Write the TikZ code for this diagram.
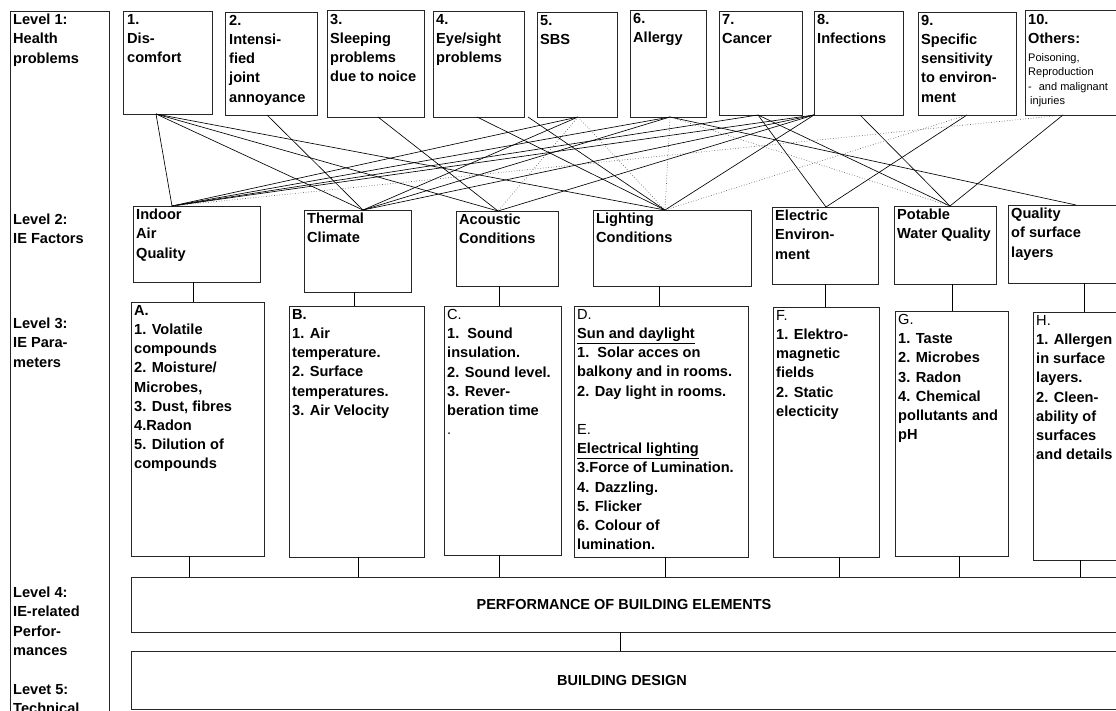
\documentclass[tikz,border=0pt]{standalone}
\usepackage{fontspec}
\setmainfont{Liberation Sans}
\usetikzlibrary{fit,calc}
\begin{document}
\begin{tikzpicture}[x=1pt,y=-1pt,
  box/.style={draw=black!85, line width=0.9pt, inner sep=0pt, outer sep=0pt, fit={#1}},
  t/.style={anchor=north west, inner sep=0pt, align=left, font=\fontsize{14.6}{19.2}\selectfont\bfseries, execute at begin node=\strut},
  tsmall/.style={anchor=north west, inner sep=0pt, align=left, font=\fontsize{11}{14.6}\selectfont, execute at begin node=\strut},
  big/.style={inner sep=0pt, font=\fontsize{14.5}{19.2}\selectfont\bfseries},
  c/.style={draw=black, line width=0.65pt},
  cd/.style={draw=black!65, line width=0.65pt, dotted}]
\useasboundingbox (0,0) rectangle (1116,710);
\fill[white] (0,0) rectangle (1116,710);

% left column
\node[box={(10,11)(109,740)}] (lev) {};
\node[t] (l1t) at (13,14) {Level 1:\\Health\\problems};
\node[t] (l2t) at (13,214) {Level 2:\\IE Factors};
\node[t] (l3t) at (13,318) {Level 3:\\IE Para-\\meters};
\node[t] (l4t) at (13,587) {Level 4:\\IE-related\\Perfor-\\mances};
\node[t] (l5t) at (13,684) {Levet 5:\\Technical};

% level 1 boxes
\node[box={(123,11)(212,114)}] (b1) {};
\node[box={(225,12)(317,115)}] (b2) {};
\node[box={(327,10)(424,117)}] (b3) {};
\node[box={(433,11)(524,117)}] (b4) {};
\node[box={(537,12)(617,117)}] (b5) {};
\node[box={(630,10)(706,117)}] (b6) {};
\node[box={(719,11)(802,115)}] (b7) {};
\node[box={(814,11)(903,115)}] (b8) {};
\node[box={(918,12)(1016,115)}] (b9) {};
\node[box={(1025,10)(1140,115)}] (b10) {};

\node[t] (b1t) at ([shift={(4,3)}]b1.north west) {1.\\Dis-\\comfort};
\node[t] (b2t) at ([shift={(4,3)}]b2.north west) {2.\\Intensi-\\fied\\joint\\annoyance};
\node[t] (b3t) at ([shift={(3,4)}]b3.north west) {3.\\Sleeping\\problems\\due to noice};
\node[t] (b4t) at ([shift={(3,3)}]b4.north west) {4.\\Eye/sight\\problems};
\node[t] (b5t) at ([shift={(3,3)}]b5.north west) {5.\\SBS};
\node[t] (b6t) at ([shift={(3,3)}]b6.north west) {6.\\Allergy};
\node[t] (b7t) at ([shift={(3,3)}]b7.north west) {7.\\Cancer};
\node[t] (b8t) at ([shift={(3,3)}]b8.north west) {8.\\Infections};
\node[t] (b9t) at ([shift={(3,3)}]b9.north west) {9.\\Specific\\sensitivity\\to environ-\\ment};
\node[t] (b10t) at ([shift={(3,4)}]b10.north west) {10.\\Others:};
\node[tsmall] (b10s) at (1028,53) {Poisoning,\\Reproduction\\-\hspace{7pt}and malignant\\\hspace{2pt}injuries};

% level 2 boxes
\node[box={(133,206)(260,282)}] (iaq) {};
\node[box={(304,210)(411,292)}] (tc) {};
\node[box={(456,211)(558,286)}] (ac) {};
\node[box={(593,210)(751,286)}] (lc) {};
\node[box={(772,207)(878,284)}] (ee) {};
\node[box={(894,206)(996,284)}] (pwq) {};
\node[box={(1008,205)(1140,283)}] (qsl) {};

\node[t] (iaqt) at ([shift={(3,3)}]iaq.north west) {Indoor\\Air\\Quality};
\node[t] (tct) at ([shift={(3,3)}]tc.north west) {Thermal\\Climate};
\node[t] (act) at ([shift={(3,3)}]ac.north west) {Acoustic\\Conditions};
\node[t] (lct) at ([shift={(3,3)}]lc.north west) {Lighting\\Conditions};
\node[t] (eet) at ([shift={(3,3)}]ee.north west) {Electric\\Environ-\\ment};
\node[t] (pwqt) at ([shift={(3,3)}]pwq.north west) {Potable\\Water Quality};
\node[t] (qslt) at ([shift={(3,3)}]qsl.north west) {Quality\\of surface\\layers};

% level 3 boxes
\node[box={(131,302)(264,556)}] (pa) {};
\node[box={(289,306)(424,557)}] (pb) {};
\node[box={(444,306)(561,555)}] (pc) {};
\node[box={(574,306)(748,557)}] (pd) {};
\node[box={(773,307)(879,557)}] (pf) {};
\node[box={(895,311)(1008,556)}] (pg) {};
\node[box={(1033,312)(1140,560)}] (ph) {};

\node[t] (pat) at ([shift={(3,3)}]pa.north west) {A.\\1. Volatile\\compounds\\2. Moisture/\\Microbes,\\3. Dust, fibres\\4.Radon\\5. Dilution of\\compounds};
\node[t] (pbt) at ([shift={(3,3)}]pb.north west) {B.\\1. Air\\temperature.\\2. Surface\\temperatures.\\3. Air Velocity};
\node[t] (pct) at ([shift={(3,3)}]pc.north west) {{\mdseries C.}\\1.\ \ Sound\\insulation.\\2. Sound level.\\3. Rever-\\beration time\\{\mdseries .}};
\node[t] (pdt) at ([shift={(3,3)}]pd.north west) {{\mdseries D.}\\\underline{Sun and daylight}\\1.\ \ Solar acces on\\balkony and in rooms.\\2. Day light in rooms.\\\mbox{}\\{\mdseries E.}\\\underline{Electrical lighting}\\3.Force of Lumination.\\4. Dazzling.\\5. Flicker\\6. Colour of\\lumination.};
\node[t] (pft) at ([shift={(3,3)}]pf.north west) {{\mdseries F.}\\1. Elektro-\\magnetic\\fields\\2. Static\\electicity};
\node[t] (pgt) at ([shift={(3,3)}]pg.north west) {{\mdseries G.}\\1. Taste\\2. Microbes\\3. Radon\\4. Chemical\\pollutants and\\pH};
\node[t] (pht) at ([shift={(3,3)}]ph.north west) {{\mdseries H.}\\1. Allergen\\in surface\\layers.\\2. Cleen-\\ability of\\surfaces\\and details};

% level 4 and 5
\node[box={(131,577)(1140,632)}] (l4) {};
\node[box={(131,651)(1140,709)}] (l5) {};
\node[big] (l4txt) at (624,604) {PERFORMANCE OF BUILDING ELEMENTS};
\node[big] (l5txt) at (622,680) {BUILDING DESIGN};

% level 2 -> level 3
\draw[c] (iaq.south -| 193,0) -- (pa.north -| 193,0);
\draw[c] (tc.south -| 354,0) -- (pb.north -| 354,0);
\draw[c] (ac.south -| 499,0) -- (pc.north -| 499,0);
\draw[c] (lc.south -| 659,0) -- (pd.north -| 659,0);
\draw[c] (ee.south -| 825,0) -- (pf.north -| 825,0);
\draw[c] (pwq.south -| 952,0) -- (pg.north -| 952,0);
\draw[c] (qsl.south -| 1084,0) -- (ph.north -| 1084,0);

% level 3 -> level 4
\draw[c] (pa.south -| 189,0) -- (l4.north -| 189,0);
\draw[c] (pb.south -| 358,0) -- (l4.north -| 358,0);
\draw[c] (pc.south -| 499,0) -- (l4.north -| 499,0);
\draw[c] (pd.south -| 665,0) -- (l4.north -| 665,0);
\draw[c] (pf.south -| 839,0) -- (l4.north -| 839,0);
\draw[c] (pg.south -| 959,0) -- (l4.north -| 959,0);
\draw[c] (ph.south -| 1080,0) -- (l4.north -| 1080,0);
\draw[c] (l4.south -| 620,0) -- (l5.north -| 620,0);

% level 1 -> level 2 attachment points
\coordinate (p1) at (b1.south -| 156,0);
\coordinate (p2) at (b2.south -| 267,0);
\coordinate (p3) at (b3.south -| 378,0);
\coordinate (p4) at (b4.south -| 477,0);
\coordinate (p4b) at (b4.south -| 528,0);
\coordinate (p5) at (b5.south -| 578,0);
\coordinate (p6) at (b6.south -| 670,0);
\coordinate (p7) at (b7.south -| 758,0);
\coordinate (p8a) at (b8.south west);
\coordinate (p8b) at (b8.south -| 860,0);
\coordinate (p9) at (b9.south -| 967,0);
\coordinate (p10) at (b10.south -| 1063,0);

\coordinate (qiaq) at (iaq.north -| 172,0);
\coordinate (qtc) at (tc.north -| 363,0);
\coordinate (qac) at (ac.north -| 498,0);
\coordinate (qlc) at (lc.north -| 665,0);
\coordinate (qee) at (ee.north -| 826,0);
\coordinate (qpwq) at (pwq.north -| 950,0);
\coordinate (qqsl) at (qsl.north -| 1076,0);

% solid connectors
\draw[c] (p1) -- (qiaq);
\draw[c] (p1) -- (qtc);
\draw[c] (p1) -- (qac);
\draw[c] (p1) -- (qlc);
\draw[c] (p2) -- (qtc);
\draw[c] (p3) -- (qac);
\draw[c] (p4) -- (qlc);
\draw[c] (p4b) -- (qlc);
\draw[c] (p5) -- (qiaq);
\draw[c] (p5) -- (qtc);
\draw[c] (p6) -- (qiaq);
\draw[c] (p6) -- (qtc);
\draw[c] (p6) -- (qqsl);
\draw[c] (p7) -- (qiaq);
\draw[c] (p7) -- (qee);
\draw[c] (p7) -- (qpwq);
\draw[c] (p8a) -- (qiaq);
\draw[c] (p8a) -- (qtc);
\draw[c] (p8a) -- (qac);
\draw[c] (p8a) -- (qlc);
\draw[c] (p8b) -- (qpwq);
\draw[c] (p9) -- (qee);
\draw[c] (p10) -- (qpwq);

% dotted connectors
\draw[cd] (p5) -- (qac);
\draw[cd] (p5) -- (qlc);
\draw[cd] (p6) -- (qlc);
\draw[cd] (p6) -- (qpwq);
\draw[cd] (p9) -- (qlc);
\draw[cd] (p10) -- (qiaq);
\end{tikzpicture}
\end{document}
